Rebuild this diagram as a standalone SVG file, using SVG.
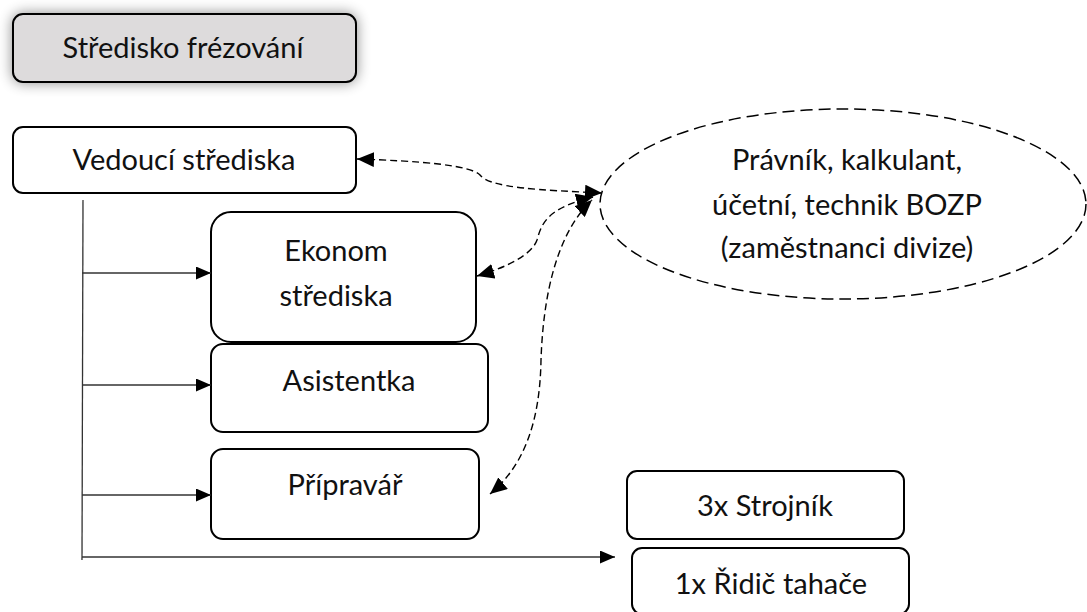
<svg xmlns="http://www.w3.org/2000/svg" width="1087" height="612" viewBox="0 0 1087 612">
<style>
.box{fill:#fff;stroke:#000;stroke-width:2}
.t{font-family:Lato,"Open Sans","Liberation Sans",sans-serif;font-size:29px;fill:#111;text-anchor:middle}
.solid{fill:none;stroke:#333;stroke-width:1.3}
.dash{fill:none;stroke:#000;stroke-width:1.4;stroke-dasharray:7 4}
</style>
<defs>
<filter id="sh" x="-20%" y="-50%" width="140%" height="200%">
<feGaussianBlur in="SourceAlpha" stdDeviation="7"/>
<feComponentTransfer><feFuncA type="linear" slope="0.45"/></feComponentTransfer>
<feMerge><feMergeNode/><feMergeNode in="SourceGraphic"/></feMerge>
</filter>
<marker id="a" markerWidth="15" markerHeight="13" refX="15" refY="6.5" orient="auto" markerUnits="userSpaceOnUse">
<path d="M0,0 L15,6.5 L0,13 z" fill="#000"/>
</marker>
<marker id="d" markerWidth="17" markerHeight="15" refX="17" refY="7.5" orient="auto-start-reverse" markerUnits="userSpaceOnUse">
<path d="M0,0 L17,7.5 L0,15 z" fill="#000"/>
</marker>
</defs>

<g id="title">
<rect x="13" y="14" width="343" height="68" rx="10" fill="#dddbdc" stroke="#000" stroke-width="2" filter="url(#sh)"/>
<text class="t" x="183" y="58">Středisko frézování</text>
</g>

<g id="vedouci">
<rect class="box" x="13" y="127" width="343" height="66" rx="10"/>
<text class="t" x="184" y="170">Vedoucí střediska</text>
</g>

<g id="ekonom">
<rect class="box" x="211" y="212" width="265" height="130" rx="20"/>
<text class="t" x="336" y="261">Ekonom</text>
<text class="t" x="336" y="306">střediska</text>
</g>

<g id="asistentka">
<rect class="box" x="211" y="344" width="277" height="88" rx="12"/>
<text class="t" x="349" y="391">Asistentka</text>
</g>

<g id="pripravar">
<rect class="box" x="211" y="449" width="268" height="90" rx="12"/>
<text class="t" x="345" y="495">Přípravář</text>
</g>

<g id="divize">
<ellipse cx="843" cy="204" rx="243" ry="95" fill="none" stroke="#000" stroke-width="1.5" stroke-dasharray="12 6"/>
<text class="t" x="847" y="170">Právník, kalkulant,</text>
<text class="t" x="847" y="215">účetní, technik BOZP</text>
<text class="t" x="847" y="258">(zaměstnanci divize)</text>
</g>

<g id="strojnik">
<rect class="box" x="627" y="471" width="277" height="68" rx="10"/>
<text class="t" x="765" y="516">3x Strojník</text>
</g>

<g id="ridic">
<rect class="box" x="632" y="548" width="277" height="66" rx="10"/>
<text class="t" x="771" y="594">1x Řidič tahače</text>
</g>

<g id="connectors">
<path class="solid" d="M83,200 L82,560"/>
<path class="solid" d="M82,273 L211,273" marker-end="url(#a)"/>
<path class="solid" d="M82,385 L211,385" marker-end="url(#a)"/>
<path class="solid" d="M82,495 L211,495" marker-end="url(#a)"/>
<path class="solid" d="M82,557 L615,557" marker-end="url(#a)"/>
<path class="dash" d="M357,159 C420,161 470,165 480,175 C490,188 540,190 602,193" marker-start="url(#d)" marker-end="url(#d)"/>
<path class="dash" d="M477,276 C505,268 532,255 537,240 C542,222 548,208 593,197" marker-start="url(#d)" marker-end="url(#d)"/>
<path class="dash" d="M490,494 C525,465 540,420 541,360 C543,300 555,235 592,200" marker-start="url(#d)" marker-end="url(#d)"/>
</g>
</svg>
